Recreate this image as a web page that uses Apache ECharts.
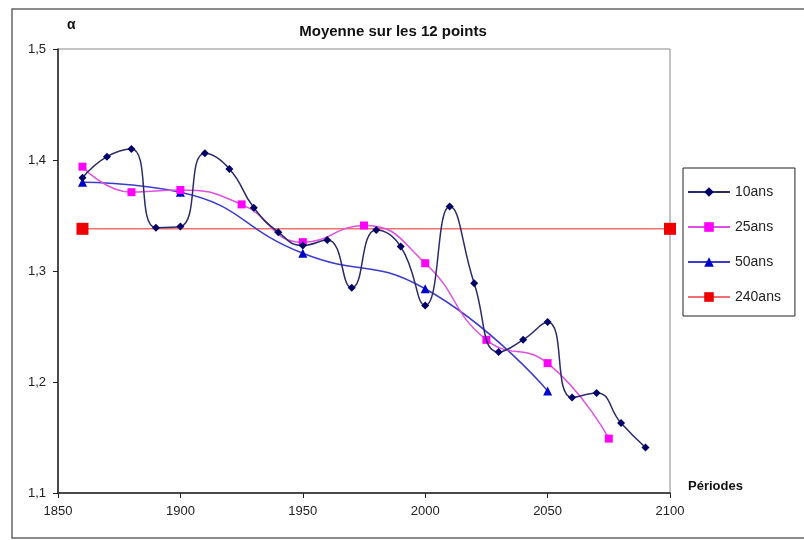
<!DOCTYPE html>
<html><head><meta charset="utf-8">
<script src="https://cdn.jsdelivr.net/npm/echarts@6/dist/echarts.min.js"></script>
<style>html,body{margin:0;padding:0;background:#fff}#c{width:804px;height:540px}</style>
</head><body><div id="c"></div>
<script>
var years10 = [1860,1870,1880,1890,1900,1910,1920,1930,1940,1950,1960,1970,1980,1990,2000,2010,2020,2030,2040,2050,2060,2070,2080,2090];
var vals10  = [1.384,1.403,1.410,1.339,1.340,1.406,1.392,1.357,1.335,1.323,1.328,1.285,1.337,1.322,1.269,1.358,1.289,1.227,1.238,1.254,1.186,1.190,1.163,1.141];
var years25 = [1860,1880,1900,1925,1950,1975,2000,2025,2050,2075];
var vals25  = [1.394,1.371,1.373,1.360,1.326,1.341,1.307,1.238,1.217,1.149];
var years50 = [1860,1900,1950,2000,2050];
var vals50  = [1.380,1.371,1.316,1.284,1.192];
var years240 = [1860,2100];
var vals240  = [1.338,1.338];
var seriesNames = ['10ans','25ans','50ans','240ans'];
var titleText = 'Moyenne sur les 12 points';
var xName = 'Périodes';
var yName = 'α';

function pairs(xs, ys){ return xs.map(function(x,i){ return [x, ys[i]]; }); }

var font = 'Liberation Sans, Arial, sans-serif';
var chart = echarts.init(document.getElementById('c'), null, {renderer:'canvas'});
chart.setOption({
  animation:false,
  backgroundColor:'#fff',
  textStyle:{fontFamily:font},
  graphic:[
    {type:'rect', shape:{x:12,y:9,width:800,height:529}, style:{fill:'none', stroke:'#666', lineWidth:1.5}, silent:true, z:-10},
    {type:'rect', shape:{x:58,y:49,width:612,height:444}, style:{fill:'none', stroke:'#888', lineWidth:1}, silent:true, z:-5},
    {type:'text', left:67, top:18, style:{text:yName, font:'bold 14px Liberation Sans, Arial, sans-serif', fill:'#111'}}
  ],
  title:{text:titleText, left:388, top:19, textAlign:'center', textStyle:{fontSize:15, fontWeight:'bold', color:'#111', fontFamily:font}},
  legend:{
    orient:'vertical', left:683, top:168, data:seriesNames,
    borderColor:'#222', borderWidth:1, padding:[17,14,12,4], itemGap:21,
    itemWidth:42, itemHeight:12,
    textStyle:{fontSize:14, color:'#222', fontFamily:font}
  },
  grid:{left:58, right:134, top:49, bottom:47, containLabel:false},
  xAxis:{
    type:'value', min:1850, max:2100, interval:50,
    name:xName, nameLocation:'end', nameGap:0,
    nameTextStyle:{fontSize:13, fontWeight:'bold', color:'#111', padding:[0,0,0,18], align:'left', verticalAlign:'bottom', lineHeight:14},
    axisLine:{show:true, lineStyle:{color:'#222', width:1.5}},
    axisTick:{show:true, length:5, lineStyle:{color:'#222'}},
    axisLabel:{fontSize:13, color:'#222', margin:12, formatter:function(v){return String(v);}},
    splitLine:{show:false}
  },
  yAxis:{
    type:'value', min:1.1, max:1.5, interval:0.1,
    axisLine:{show:true, lineStyle:{color:'#222', width:1.5}},
    axisTick:{show:true, length:5, lineStyle:{color:'#222'}},
    axisLabel:{fontSize:13, color:'#222', margin:12, formatter:function(v){return v.toFixed(1).replace('.', ',');}},
    splitLine:{show:false}
  },
  series:[
    {name:seriesNames[0], type:'line', data:pairs(years10, vals10), smooth:0.5, symbol:'diamond', symbolSize:8,
      itemStyle:{color:'#000066'}, lineStyle:{color:'#2a2a6a', width:1.5}, z:5},
    {name:seriesNames[1], type:'line', data:pairs(years25, vals25), smooth:0.5, symbol:'rect', symbolSize:8,
      itemStyle:{color:'#ff00ff'}, lineStyle:{color:'#e050e0', width:1.5}, z:4},
    {name:seriesNames[2], type:'line', data:pairs(years50, vals50), smooth:0.5, symbol:'triangle', symbolSize:9,
      itemStyle:{color:'#0000cc'}, lineStyle:{color:'#3b3bcc', width:1.5}, z:3},
    {name:seriesNames[3], type:'line', data:pairs(years240, vals240), symbol:'rect', symbolSize:12, clip:false,
      itemStyle:{color:'#ee0000'}, lineStyle:{color:'#f07070', width:1.5}, z:2}
  ]
});
</script></body></html>
